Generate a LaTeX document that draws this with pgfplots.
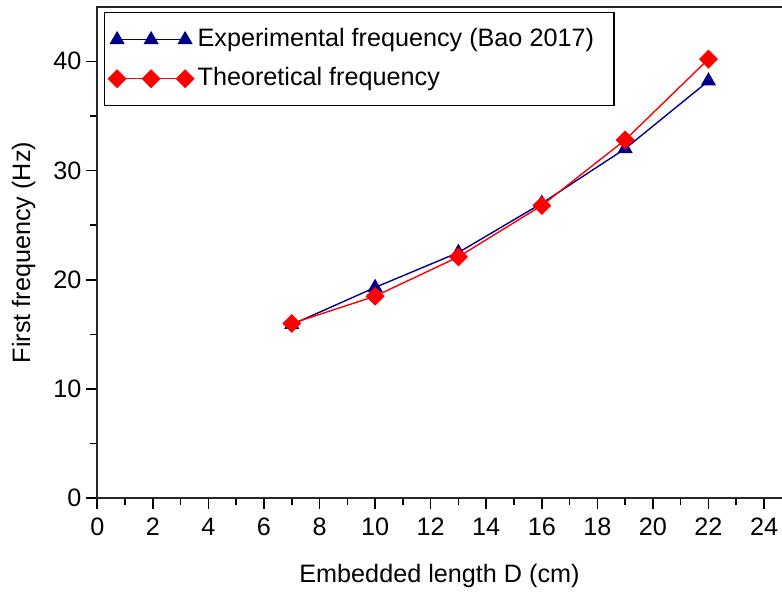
\documentclass[border=0pt]{standalone}
\usepackage{fontspec}
\setmainfont{Liberation Sans}
\usepackage{pgfplots}
\pgfplotsset{compat=1.18}
\definecolor{expblue}{RGB}{0,0,139}
\definecolor{threed}{RGB}{255,0,0}
\begin{document}
\fontsize{12.6}{15}\selectfont
\begin{tikzpicture}
\begin{axis}[
  name=ax,
  scale only axis,
  width=347.25pt, height=245.8pt,
  xmin=0, xmax=25, ymin=0, ymax=45,
  xtick={0,2,...,24}, ytick={0,10,...,40},
  minor x tick num=1, minor y tick num=1,
  xtick pos=bottom, ytick pos=left,
  tick align=outside,
  major tick length=5.5pt, minor tick length=3.5pt,
  every tick/.style={black, line width=0.8pt},
  axis line style={line width=0.9pt, black!85},
  /pgf/number format/assume math mode=true,
  tick label style={font=\fontsize{12.6}{15}\selectfont},
  yticklabel style={xshift=2pt},
  xlabel={Embedded length D (cm)},
  ylabel={First frequency (Hz)},
  xlabel style={at={(axis description cs:0.4927,-0.1587)}, anchor=center},
  ylabel style={at={(axis description cs:-0.106,0.5)}, anchor=center},
  legend style={at={(0.0097,0.989)}, anchor=north west, draw=black, line width=0.6pt,
    font=\fontsize{12.6}{15}\selectfont, inner xsep=2pt, inner ysep=6pt,
    row sep=4.5pt},
  legend cell align=left,
  legend image code/.code={\draw[#1] plot coordinates {(0pt,0pt) (17pt,0pt) (34pt,0pt)};},
]
\addplot[color=expblue, line width=0.7pt, mark=triangle*, mark size=3.7pt, mark options={solid, fill=expblue}]
  coordinates {(7,15.9) (10,19.3) (13,22.5) (16,27.0) (19,32.0) (22,38.2)};
\addlegendentry{Experimental frequency (Bao 2017)\rule{6pt}{0pt}}
\addplot[color=threed, line width=0.7pt, mark=square*, mark size=3pt, mark options={solid, rotate=45, fill=threed}]
  coordinates {(7,16.0) (10,18.5) (13,22.1) (16,26.8) (19,32.8) (22,40.2)};
\addlegendentry{Theoretical frequency}
\end{axis}
\pgfresetboundingbox
\path[use as bounding box] ([xshift=-48.65pt, yshift=-46.85pt]ax.south west) rectangle ([xshift=342.35pt, yshift=3.35pt]ax.north west);
\end{tikzpicture}
\end{document}
